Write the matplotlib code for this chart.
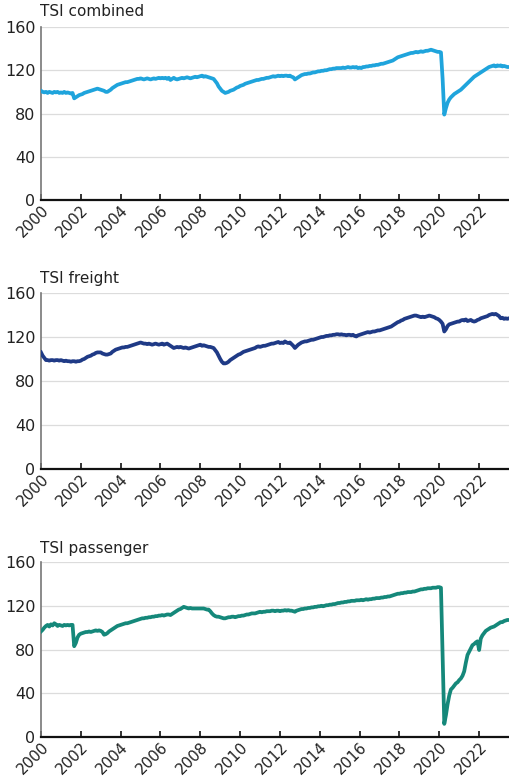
import numpy as np
import matplotlib
matplotlib.use("Agg")
import matplotlib.pyplot as plt

plt.rcParams['font.family'] = ['DejaVu Sans']

# Monthly index values, Jan 2000 - Jul 2023 (one row per year)
combined = [
    101, 100, 99.5, 100, 99, 100, 99.5, 99, 100, 99.5, 100, 99,
    99.5, 99, 100, 99, 99.5, 99, 98.5, 99, 94, 95, 96, 97,
    97.5, 98, 99, 99.5, 100, 100.5, 101, 101.5, 102, 102.5, 103, 102.5,
    102, 101.5, 101, 100, 100, 101, 102, 103.5, 104.5, 105.5, 106.5, 107,
    107.5, 108, 108.5, 109, 109, 109.5, 110, 110.5, 111, 111.5, 112, 112,
    112.5, 112, 111.5, 112, 112.5, 112, 111.5, 112, 112.5, 112, 112.5, 113,
    112.5, 113, 112.5, 113, 112, 113, 111, 112, 113, 112, 111.5, 112,
    112.5, 113, 112.5, 113, 113.5, 113, 112.5, 113, 113.5, 114, 113.5, 114,
    114.5, 115, 114, 114.5, 114, 113.5, 113, 112.5, 112, 110, 108, 105,
    103, 101, 100, 99, 99.5, 100, 101, 101.5, 102, 103, 104, 104.5,
    105.5, 106, 106.5, 107.5, 108, 108.5, 109, 109.5, 110, 110.5, 111, 111,
    111.5, 112, 112, 112.5, 113, 113, 113.5, 114, 114.5, 114, 114.5, 115,
    114.5, 115, 114.5, 115, 115, 114.5, 115, 114, 113.5, 111.5, 112.5, 113.5,
    114.5, 115.5, 116, 116.5, 116.5, 117, 117, 117.5, 118, 118, 118.5, 119,
    119, 119.5, 119.5, 120, 120, 120.5, 121, 121, 121.5, 121.5, 122, 122,
    122, 122, 122.5, 122, 122.5, 123, 122.5, 122.5, 123, 122.5, 123, 122,
    122.5, 122, 123, 123, 123.5, 123.5, 124, 124, 124.5, 124.5, 125, 125,
    125.5, 126, 126, 126.5, 127, 127.5, 128, 128.5, 129, 130, 131, 132,
    132.5, 133, 133.5, 134, 134.5, 135, 135.5, 136, 136, 136.5, 137, 136.5,
    137, 137.5, 137, 137.5, 138, 138, 138.5, 139, 138.5, 138, 137.5, 137,
    137, 136.5, 112, 79, 85, 90, 93, 95, 96.5, 98, 99, 100,
    101, 102, 103.5, 105, 106.5, 108, 109.5, 111, 112.5, 114, 115, 116,
    117, 118, 119, 120, 121, 122, 123, 123.5, 124, 124.5, 123.5, 124.5,
    124, 124.5, 123.5, 124, 123.5, 123, 123,
]

freight = [
    106, 103, 101, 99, 99, 98.5, 99, 99, 98.5, 99, 99, 98.5,
    99, 98.5, 98, 98.5, 98, 98, 97.5, 98, 98, 97.5, 98, 98,
    98.5, 99.5, 100, 101, 102, 102.5, 103, 104, 104.5, 105.5, 106, 106,
    106, 105, 104.5, 104, 104, 104.5, 105, 106.5, 107.5, 108.5, 109, 109.5,
    110, 110.5, 110.5, 111, 111, 111.5, 112, 112.5, 113, 113.5, 114, 114.5,
    115, 114.5, 114, 114, 113.5, 114, 113.5, 113, 113.5, 114, 113.5, 113,
    113.5, 114, 113, 113.5, 114, 113, 112, 111, 110, 110.5, 111, 110.5,
    111, 110.5, 110, 110.5, 110, 109.5, 110, 110.5, 111, 111.5, 112, 112.5,
    113, 112, 112.5, 112, 111.5, 111, 111, 110.5, 110, 108, 106, 103,
    100, 97.5, 96, 96, 96.5, 97.5, 99, 100, 101, 102, 103, 104,
    104.5, 105.5, 106.5, 107, 107.5, 108, 108.5, 109, 109.5, 110, 111, 111.5,
    111, 111.5, 112, 112, 112.5, 113, 113.5, 114, 114, 114.5, 115, 115.5,
    114.5, 115, 114.5, 116, 115, 114.5, 115, 113.5, 112, 110, 111.5, 113,
    114, 115, 115.5, 116, 116, 116.5, 117, 117.5, 117.5, 118, 118.5, 119,
    119.5, 120, 120, 120.5, 121, 121, 121.5, 121.5, 122, 122, 122.5, 122.5,
    122, 122.5, 122, 122, 121.5, 122, 122, 121.5, 122, 121, 120.5, 121.5,
    122, 122.5, 123, 123.5, 124, 124.5, 124, 124.5, 125, 125, 125.5, 126,
    126, 126.5, 127, 127.5, 128, 128.5, 129, 129.5, 130.5, 131.5, 132.5, 133.5,
    134, 135, 135.5, 136.5, 137, 137.5, 138, 138.5, 139, 139.5, 139.5, 139,
    138.5, 138, 138.5, 138, 138.5, 139, 139.5, 139, 138.5, 138, 137, 136.5,
    135.5, 134, 132, 125, 127, 130, 131.5, 132, 132.5, 133, 133.5, 134,
    134, 135, 135.5, 135, 136, 134.5, 135, 135.5, 134.5, 134, 134.5, 135.5,
    136, 137, 137.5, 138, 138.5, 139, 140, 140.5, 141, 140.5, 141, 140,
    139, 137, 137.5, 136.5, 137, 136.5, 137,
]

passenger = [
    96.5, 98, 100, 101.5, 102.5, 101, 103, 102, 104, 103, 101.5, 102.5,
    102, 101.5, 102.5, 102, 102.5, 102, 102.5, 102.5, 83, 86, 91, 93.5,
    94.5, 95, 95.5, 96, 96, 96.5, 96, 96.5, 97, 97.5, 97, 97.5,
    97, 96, 93.5, 94, 95, 96.5, 97.5, 98.5, 99.5, 100.5, 101.5, 102,
    102.5, 103, 103.5, 104, 104, 104.5, 105, 105.5, 106, 106.5, 107, 107.5,
    108, 108.5, 108.5, 109, 109, 109.5, 109.5, 110, 110, 110.5, 110.5, 111,
    111, 111.5, 111, 111.5, 112, 112, 111.5, 112.5, 113.5, 114.5, 115.5, 116.5,
    117, 118, 119, 118.5, 118, 117.5, 118, 117.5, 117.5, 117.5, 117.5, 117.5,
    117.5, 117.5, 117.5, 117, 116.5, 116.5, 115, 113, 111.5, 110.5, 110, 110,
    109.5, 109, 108.5, 108.5, 109, 109.5, 109.5, 110, 110, 109.5, 110, 110.5,
    110.5, 111, 111, 111.5, 112, 112, 112.5, 113, 113, 113, 113.5, 114,
    114.5, 114, 114.5, 114.5, 115, 115, 115, 115.5, 115.5, 115, 115.5, 115.5,
    115, 115.5, 115.5, 116, 115.5, 116, 115.5, 115.5, 115, 114.5, 115.5, 116,
    116.5, 117, 117, 117.5, 117.5, 118, 118, 118.5, 118.5, 119, 119, 119.5,
    119.5, 120, 119.5, 120, 120.5, 120.5, 121, 121, 121.5, 121.5, 122, 122.5,
    122.5, 123, 123, 123.5, 123.5, 124, 124, 124.5, 124.5, 124.5, 125, 125,
    125, 125.5, 125, 125.5, 126, 125.5, 126, 126, 126.5, 126.5, 127, 127,
    127, 127.5, 127.5, 128, 128, 128.5, 128.5, 129, 129.5, 130, 130.5, 131,
    131, 131.5, 131.5, 132, 132, 132.5, 132.5, 132.5, 133, 133, 133.5, 134,
    134.5, 135, 135, 135.5, 135.5, 136, 136, 136, 136.5, 136.5, 136.5, 137,
    137, 136.5, 75, 12, 20, 30, 38, 43.5, 45, 47, 49, 50,
    52, 53.5, 56, 60, 68, 75, 78, 81, 84, 85, 86.5, 87.5,
    79.5, 90, 93, 95, 97, 98, 99, 100, 100.5, 101, 102, 103,
    104, 105, 105, 106, 106.5, 107, 107,
]

titles = ["TSI combined", "TSI freight", "TSI passenger"]
colors = ["#1FA4DC", "#1F3A86", "#15887A"]
series = [combined, freight, passenger]

x_ticks = list(range(2000, 2023, 2))
y_ticks = [0, 40, 80, 120, 160]

W, H = 509, 779
fig = plt.figure(figsize=(W / 100, H / 100), dpi=100)

# (top px, bottom px, title centre px) for each panel
panels = [(27, 200, 12), (293, 469, 279), (562, 737, 548)]
left_px = 41

for (top, bot, ty), title, color, vals in zip(panels, titles, colors, series):
    ax = fig.add_axes([left_px / W, 1 - bot / H, 1 - left_px / W, (bot - top) / H])
    t = 2000 + np.arange(len(vals)) / 12.0
    ax.plot(t, vals, color=color, lw=2.7, solid_joinstyle='round', zorder=3)

    ax.set_xlim(2000, 2023.5)
    ax.set_ylim(0, 160)
    ax.set_yticks(y_ticks)
    ax.set_xticks(x_ticks)
    ax.set_xticklabels([str(v) for v in x_ticks], rotation=45, ha='right',
                       va='top', rotation_mode='anchor')
    ax.grid(axis='y', color='#DCDCDC', lw=0.9, zorder=0)
    ax.set_axisbelow(True)

    for s in ('top', 'right'):
        ax.spines[s].set_visible(False)
    ax.spines['left'].set_color('#777777')
    ax.spines['left'].set_linewidth(1.2)
    ax.spines['bottom'].set_color('#111111')
    ax.spines['bottom'].set_linewidth(1.6)
    ax.spines['bottom'].set_zorder(4)

    ax.tick_params(axis='y', length=0, pad=4, labelsize=11.5, colors='#222222')
    ax.tick_params(axis='x', direction='in', length=4, width=1.2, color='#111111',
                   pad=2, labelsize=10.8, labelcolor='#222222')

    fig.text(40 / W, 1 - ty / H, title, ha='left', va='center',
             fontsize=11, color='#222222')

fig.savefig("out.png", dpi=100)
